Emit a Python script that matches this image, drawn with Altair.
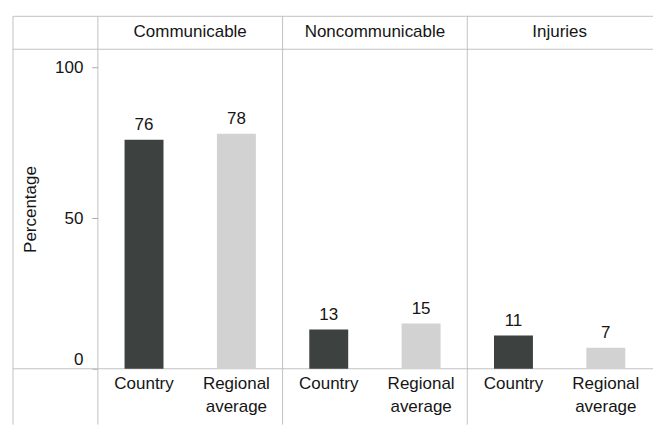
import altair as alt
import pandas as pd

groups = ["Communicable", "Noncommunicable", "Injuries"]
categories = ["Country", "Regional average"]
country_values = [76, 13, 11]
regional_values = [78, 15, 7]

rows = []
for g, c, r in zip(groups, country_values, regional_values):
    rows.append({"group": g, "category": categories[0], "value": c})
    rows.append({"group": g, "category": categories[1], "value": r})
df = pd.DataFrame(rows)

W = 185
H = 320
TOP = -33
BOT = H + 56
LEFT = -85
LINE = "#c2c2c2"
FONT = "Liberation Sans"
INK = "#151515"
FS = 17

x = alt.X(
    "category:N",
    sort=categories,
    axis=alt.Axis(
        title=None, labelAngle=0, ticks=False, domain=False,
        labelExpr="split(datum.label, ' ')",
        labelFontSize=FS, labelFont=FONT, labelColor=INK,
        labelPadding=7, labelLineHeight=23,
    ),
)
y = alt.Y(
    "value:Q",
    scale=alt.Scale(domain=[0, 106], nice=False),
    axis=alt.Axis(
        values=[0, 50, 100], title="Percentage", grid=False, domain=False,
        tickSize=6, tickColor="#aaaaaa", labelFlush=True,
        labelFontSize=FS, labelFont=FONT, labelColor=INK, labelPadding=9,
        titleFontSize=FS, titleFont=FONT, titleColor=INK,
        titleFontWeight="normal", titlePadding=15,
    ),
)

base = alt.Chart()

bars = base.mark_bar(size=39).encode(
    x=x, y=y,
    color=alt.Color("category:N",
                    scale=alt.Scale(domain=categories, range=["#3d4140", "#d2d2d2"]),
                    legend=None),
)
labels = base.mark_text(baseline="bottom", dy=-6, fontSize=FS, font=FONT, color=INK).encode(
    x=x, y=y, text="value:Q"
)

one = base.transform_filter(alt.datum.category == "Country")
first = base.transform_filter(
    (alt.datum.category == "Country") & (alt.datum.group == "Communicable")
)
rs = dict(color=LINE, strokeWidth=1)

deco = [
    one.mark_rule(**rs).encode(x=alt.value(0), x2=alt.value(W + 1), y=alt.value(TOP)),
    one.mark_rule(**rs).encode(x=alt.value(0), x2=alt.value(W + 1), y=alt.value(0)),
    one.mark_rule(**rs).encode(x=alt.value(0), x2=alt.value(W + 1), y=alt.value(H)),
    one.mark_rule(**rs).encode(x=alt.value(0), y=alt.value(TOP), y2=alt.value(BOT)),
    first.mark_rule(**rs).encode(x=alt.value(LEFT), x2=alt.value(0), y=alt.value(TOP)),
    first.mark_rule(**rs).encode(x=alt.value(LEFT), x2=alt.value(0), y=alt.value(0)),
    first.mark_rule(**rs).encode(x=alt.value(LEFT), x2=alt.value(0), y=alt.value(H)),
    first.mark_rule(**rs).encode(x=alt.value(LEFT), y=alt.value(TOP), y2=alt.value(BOT)),
]

layered = alt.layer(*deco, bars, labels, data=df).properties(width=W, height=H)

chart = layered.facet(
    column=alt.Column(
        "group:N", sort=groups, title=None,
        header=alt.Header(labelFontSize=FS, labelFont=FONT, labelColor=INK, labelPadding=8),
    ),
    spacing=0,
).properties(
    bounds="flush",
    padding={"left": 12, "top": 15, "right": 0, "bottom": 0},
    background="white",
).configure_view(strokeWidth=0)

chart.save("out.html", embed_options={"renderer": "svg", "actions": False})
